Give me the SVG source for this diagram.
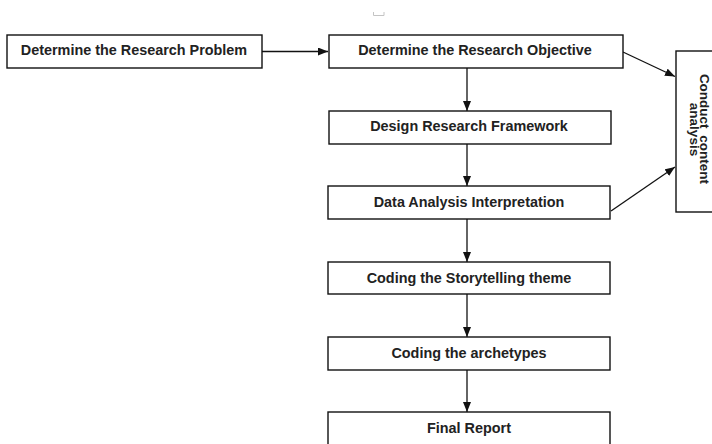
<svg xmlns="http://www.w3.org/2000/svg" width="712" height="444" viewBox="0 0 712 444">
<defs>
<style>
.box{fill:#fff;stroke:#111;stroke-width:1.4}
.t{font-family:"Liberation Sans",Arial,sans-serif;font-weight:bold;font-size:14.4px;fill:#222;text-anchor:middle}
.c{font-family:"Liberation Sans",Arial,sans-serif;font-weight:bold;font-size:13.5px;fill:#222;text-anchor:middle}
.ln{stroke:#111;stroke-width:1.3;fill:none;marker-end:url(#ah)}
</style>
<marker id="ah" markerWidth="10" markerHeight="8" refX="10" refY="4" orient="auto" markerUnits="userSpaceOnUse">
<path d="M0,0 L10,4 L0,8 Z" fill="#111"/>
</marker>
</defs>
<rect width="712" height="444" fill="#fff"/>
<path d="M373.5,12 V15.5 H384 V12" fill="none" stroke="#c4c4c4" stroke-width="1"/>
<g id="connectors">
<line class="ln" x1="262" y1="51.5" x2="328" y2="51.5"/>
<line class="ln" x1="467" y1="68" x2="467" y2="111"/>
<line class="ln" x1="467" y1="144" x2="467" y2="186"/>
<line class="ln" x1="467" y1="219" x2="467" y2="262"/>
<line class="ln" x1="467" y1="294" x2="467" y2="337"/>
<line class="ln" x1="467" y1="370" x2="467" y2="412"/>
<line class="ln" x1="623" y1="52" x2="675" y2="76.5"/>
<line class="ln" x1="611" y1="211" x2="675" y2="167"/>
</g>
<g id="n1"><rect class="box" x="7" y="35" width="255" height="33"/><text class="t" x="134" y="54.5">Determine the Research Problem</text></g>
<g id="n2"><rect class="box" x="329" y="35" width="294" height="33"/><text class="t" x="475" y="54.5">Determine the Research Objective</text></g>
<g id="n3"><rect class="box" x="329" y="111" width="282" height="33"/><text class="t" x="469" y="130.5">Design Research Framework</text></g>
<g id="n4"><rect class="box" x="328" y="186" width="282" height="33"/><text class="t" x="469" y="206.5">Data Analysis Interpretation</text></g>
<g id="n5"><rect class="box" x="328" y="262" width="282" height="32"/><text class="t" x="469" y="282.5">Coding the Storytelling theme</text></g>
<g id="n6"><rect class="box" x="328" y="337" width="282" height="33"/><text class="t" x="469" y="357.5">Coding the archetypes</text></g>
<g id="n7"><rect class="box" x="328" y="412" width="282" height="40"/><text class="t" x="469" y="433">Final Report</text></g>
<g id="n8"><rect class="box" x="676" y="51" width="50" height="161"/>
<text class="c" transform="translate(699.5,129) rotate(90)" x="0" y="0" word-spacing="3">Conduct content</text>
<text class="c" transform="translate(689.5,129.5) rotate(90)" x="0" y="0">analysis</text>
</g>
</svg>
